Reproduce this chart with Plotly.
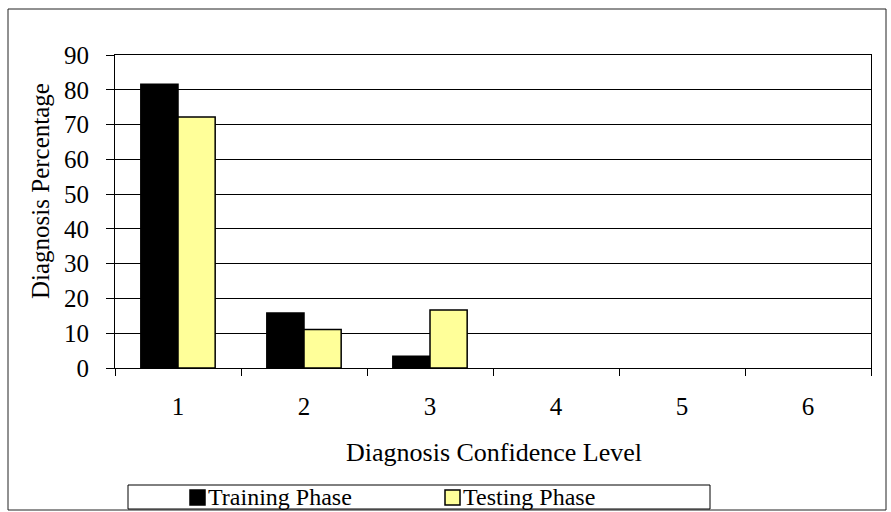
import plotly.graph_objects as go

# Diagnosis confidence levels and the share of diagnoses at each level
levels = ["1", "2", "3", "4", "5", "6"]
training_phase = [81.6, 15.8, 3.4, 0, 0, 0]
testing_phase = [72.2, 11.1, 16.7, 0, 0, 0]
series_names = ["Training Phase", "Testing Phase"]
series_colors = ["#000000", "#FFFF99"]
y_ticks = [0, 10, 20, 30, 40, 50, 60, 70, 80, 90]

W, H = 891, 512
ML, MR, MT, MB = 115, 20, 55, 144
PW, PH = W - ML - MR, H - MT - MB
FONT = "Liberation Serif, Times New Roman, serif"


def px(x):
    """Pixel column -> paper x."""
    return (x - ML) / PW


def py(y):
    """Pixel row -> paper y."""
    return (H - MB - y) / PH


fig = go.Figure()
for name, vals, col in zip(series_names, [training_phase, testing_phase], series_colors):
    fig.add_trace(go.Bar(
        x=levels, y=vals, name=name,
        marker=dict(color=col,
                    line=dict(color="#000000",
                              width=[1.5 if v > 0 else 0 for v in vals])),
        showlegend=False,
    ))

shapes = []
annotations = []

# outer chart border
shapes.append(dict(type="rect", xref="paper", yref="paper",
                   x0=px(8), x1=px(886), y0=py(510), y1=py(9),
                   line=dict(color="#222222", width=1), fillcolor="rgba(0,0,0,0)"))

# axis titles
annotations.append(dict(text="Diagnosis Confidence Level", xref="paper", yref="paper",
                        x=px(494), y=py(452), showarrow=False,
                        xanchor="center", yanchor="middle",
                        font=dict(family=FONT, size=26, color="#000000")))
annotations.append(dict(text="Diagnosis Percentage", xref="paper", yref="paper",
                        x=px(40), y=py(191), showarrow=False, textangle=-90,
                        xanchor="center", yanchor="middle",
                        font=dict(family=FONT, size=25, color="#000000")))

# legend box with one swatch + label per series
shapes.append(dict(type="rect", xref="paper", yref="paper",
                   x0=px(128), x1=px(710), y0=py(509), y1=py(485),
                   line=dict(color="#000000", width=1), fillcolor="#FFFFFF"))
swatch_x = [190, 445]
for sx, name, col in zip(swatch_x, series_names, series_colors):
    shapes.append(dict(type="rect", xref="paper", yref="paper",
                       x0=px(sx), x1=px(sx + 15), y0=py(505), y1=py(490),
                       line=dict(color="#000000", width=1.5), fillcolor=col))
    annotations.append(dict(text=name, xref="paper", yref="paper",
                            x=px(sx + 16), y=py(497), showarrow=False,
                            xanchor="left", yanchor="middle",
                            font=dict(family=FONT, size=24, color="#000000")))

fig.update_layout(
    width=W, height=H,
    margin=dict(l=ML, r=MR, t=MT, b=MB, pad=0),
    paper_bgcolor="#FFFFFF", plot_bgcolor="#FFFFFF",
    barmode="group", bargap=0.41, bargroupgap=0,
    font=dict(family=FONT, size=25, color="#000000"),
    shapes=shapes, annotations=annotations,
    showlegend=False,
)
fig.update_xaxes(
    type="category", categoryorder="array", categoryarray=levels,
    tickson="boundaries", ticks="outside", ticklen=7, tickcolor="#000000",
    showline=True, linecolor="#000000", linewidth=1, mirror=True,
    showgrid=False, ticklabelstandoff=16,
    tickfont=dict(family=FONT, size=25, color="#000000"),
)
fig.update_yaxes(
    range=[0, 90], tickvals=y_ticks, ticks="outside", ticklen=8, tickcolor="#000000",
    showline=True, linecolor="#000000", linewidth=1, mirror=True,
    showgrid=True, gridcolor="#000000", gridwidth=1, zeroline=False,
    ticklabelstandoff=12,
    tickfont=dict(family=FONT, size=25, color="#000000"),
)

fig.write_html("out.html")
